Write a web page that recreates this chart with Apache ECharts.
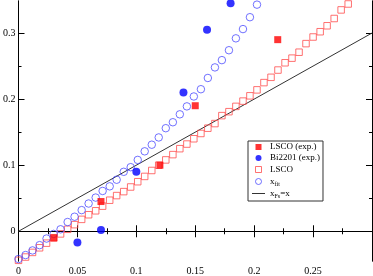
<!DOCTYPE html>
<html>
<head>
<meta charset="utf-8">
<script src="https://cdn.jsdelivr.net/npm/echarts@6/dist/echarts.min.js"></script>
<style>
html,body{margin:0;padding:0;background:#fff;}
#c{width:373px;height:276px;}
</style>
</head>
<body>
<div id="c"></div>
<script>
// doping grid of the calculated curves
const xGrid = [0, 0.0060, 0.0119, 0.0179, 0.0238, 0.0298, 0.0357, 0.0417, 0.0476, 0.0536,
  0.0595, 0.0655, 0.0714, 0.0774, 0.0833, 0.0893, 0.0952, 0.1012, 0.1071, 0.1131,
  0.1190, 0.1250, 0.1310, 0.1369, 0.1429, 0.1488, 0.1548, 0.1607, 0.1667, 0.1726,
  0.1786, 0.1845, 0.1905, 0.1964, 0.2024, 0.2083, 0.2143, 0.2202, 0.2262, 0.2321,
  0.2381, 0.2440, 0.2500, 0.2560, 0.2619, 0.2679, 0.2738, 0.2798];
// LSCO (calculated, open squares)
const lscoCalc = [-0.044, -0.039, -0.032, -0.025, -0.018, -0.010, -0.004, 0.003, 0.010, 0.018,
  0.025, 0.031, 0.038, 0.047, 0.054, 0.060, 0.067, 0.075, 0.083, 0.092,
  0.100, 0.108, 0.116, 0.125, 0.132, 0.140, 0.148, 0.156, 0.163, 0.175,
  0.181, 0.189, 0.197, 0.205, 0.214, 0.225, 0.233, 0.244, 0.255, 0.262,
  0.271, 0.284, 0.294, 0.302, 0.311, 0.322, 0.335, 0.344];
// x_fit (open circles)
const xFit = [-0.042, -0.036, -0.029, -0.021, -0.011, -0.004, 0.003, 0.014, 0.022, 0.032,
  0.042, 0.051, 0.061, 0.068, 0.078, 0.090, 0.097, 0.108, 0.121, 0.131,
  0.142, 0.156, 0.165, 0.177, 0.189, 0.204, 0.215, 0.232, 0.248, 0.259,
  0.274, 0.292, 0.306, 0.324, 0.343];
// experiments
const lscoExpX = [0.03, 0.07, 0.12, 0.15, 0.22];
const lscoExpY = [-0.010, 0.045, 0.100, 0.190, 0.290];
const biExpX = [0.05, 0.07, 0.10, 0.14, 0.16, 0.18];
const biExpY = [-0.017, 0.002, 0.090, 0.210, 0.305, 0.345];
// x_Fs = x reference line
const lineX = [0, 0.3];
const lineY = [0, 0.3];
// ticks
const xTickLabels = [0, 0.05, 0.1, 0.15, 0.2, 0.25];
const yMajor = [0, 0.1, 0.2, 0.3];
const yMinor = [0.05, 0.15, 0.25];

const zip = (a, b) => a.slice(0, b.length).map((v, i) => [v, b[i]]);

const font = "'Liberation Serif', 'Times New Roman', serif";
const BLUE_O = '#4d4dff', RED_O = '#ff4d4d';
const Y_MIN = -0.045, Y_MAX = 0.3485;
const SQ = 'path://M0,0H10V10H0Z';
const BAR = 'path://M0,0H13V1H0Z';

function yAx(pos, vals, len, labels) {
  return {
    type: 'value', position: pos, min: Y_MIN, max: Y_MAX,
    axisLine: { show: true, lineStyle: { color: '#000', width: 1 } },
    axisTick: { show: true, inside: true, length: len, customValues: vals, lineStyle: { color: '#000' } },
    axisLabel: labels ? { show: true, customValues: vals, margin: 3, fontFamily: font, fontSize: 10, color: '#000' } : { show: false },
    splitLine: { show: false }
  };
}
function xAx(pos, labels) {
  return {
    type: 'value', position: pos, min: 0, max: 0.3, interval: 0.05,
    axisLine: { show: true, lineStyle: { color: '#000', width: 1 } },
    axisTick: { show: true, inside: true, length: 6, lineStyle: { color: '#000' } },
    minorTick: { show: true, splitNumber: 2, length: 3, lineStyle: { color: '#000' } },
    axisLabel: labels ? { show: true, customValues: xTickLabels, margin: 5, fontFamily: font, fontSize: 10, color: '#000' } : { show: false },
    splitLine: { show: false }, minorSplitLine: { show: false }
  };
}

const chart = echarts.init(document.getElementById('c'), null, { renderer: 'canvas' });
chart.setOption({
  animation: false,
  backgroundColor: '#fff',
  grid: { left: 13, right: 1, top: 1, bottom: 13, containLabel: false },
  xAxis: [xAx('bottom', true), xAx('top', false)],
  yAxis: [yAx('left', yMajor, 6, true), yAx('left', yMinor, 3, false),
          yAx('right', yMajor, 6, false), yAx('right', yMinor, 3, false)],
  legend: {
    orient: 'vertical', left: 248, top: 141,
    padding: [1, 3, 2, 4], itemGap: 1, itemWidth: 13, itemHeight: 6,
    symbolKeepAspect: true,
    backgroundColor: '#fff', borderColor: '#333', borderWidth: 1, borderRadius: 0,
    textStyle: { fontFamily: font, fontSize: 9, color: '#000', lineHeight: 10,
      rich: {
        n: { fontFamily: font, fontSize: 9, color: '#000', lineHeight: 10 },
        s: { fontFamily: font, fontSize: 6, color: '#000', lineHeight: 10, padding: [5, 0, 0, 0] }
      } },
    formatter: function (name) {
      if (name === 'x_fit') return '{n|x}{s|fit}';
      if (name === 'x_Fs=x') return '{n|x}{s|Fs}{n|=x}';
      return '{n|' + name + '}';
    },
    data: [
      { name: 'LSCO (exp.)', icon: SQ, itemStyle: { color: '#ff0000', borderWidth: 0 } },
      { name: 'Bi2201 (exp.)', icon: 'circle', itemStyle: { color: '#0000ff', borderWidth: 0 } },
      { name: 'LSCO', icon: SQ, itemStyle: { color: 'none', borderColor: RED_O, borderWidth: 1 } },
      { name: 'x_fit', icon: 'circle', itemStyle: { color: 'none', borderColor: BLUE_O, borderWidth: 1 } },
      { name: 'x_Fs=x', icon: BAR, itemStyle: { color: '#333', borderWidth: 0 } }
    ]
  },
  series: [
    { name: 'x_Fs=x', type: 'line', data: zip(lineX, lineY), showSymbol: false, symbol: 'none',
      lineStyle: { color: '#333', width: 1 }, itemStyle: { color: '#333' }, z: 1 },
    { name: 'LSCO', type: 'scatter', data: zip(xGrid, lscoCalc), symbol: 'rect', symbolSize: 6.5,
      itemStyle: { color: 'none', borderColor: RED_O, borderWidth: 1 }, z: 2 },
    { name: 'x_fit', type: 'scatter', data: zip(xGrid, xFit), symbol: 'circle', symbolSize: 7.5,
      itemStyle: { color: 'none', borderColor: BLUE_O, borderWidth: 1 }, z: 3 },
    { name: 'LSCO (exp.)', type: 'scatter', data: zip(lscoExpX, lscoExpY), symbol: 'rect', symbolSize: 7,
      itemStyle: { color: '#ff0000' }, z: 4 },
    { name: 'Bi2201 (exp.)', type: 'scatter', data: zip(biExpX, biExpY), symbol: 'circle', symbolSize: 8,
      itemStyle: { color: '#0000ff' }, z: 5 }
  ]
});
</script>
</body>
</html>
